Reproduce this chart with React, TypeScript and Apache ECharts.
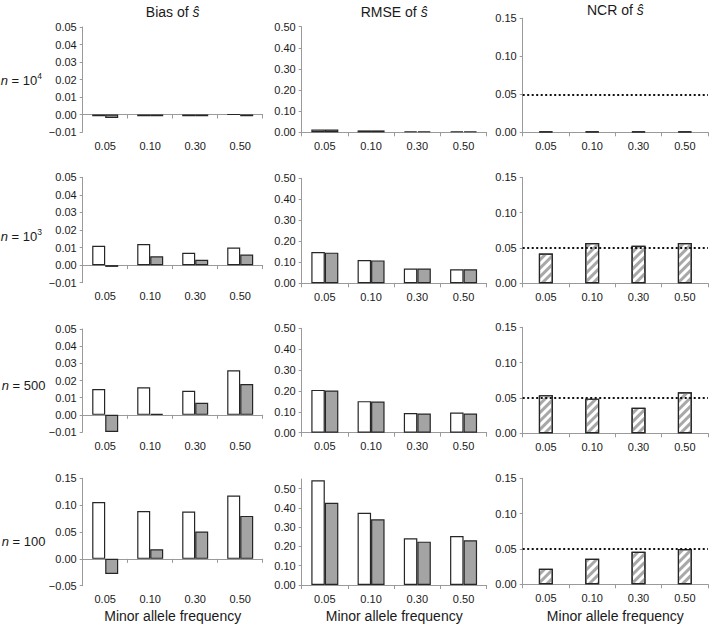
import React, { useEffect, useRef } from 'react';
import * as echarts from 'echarts';

// ---------- data ----------
const categories = ['0.05', '0.10', '0.30', '0.50'];
const sampleSizes = ['10^4', '10^3', '500', '100'];
const columnTitles = ['Bias of ', 'RMSE of ', 'NCR of '];
const xAxisTitle = 'Minor allele frequency';
const ncrNominal = 0.05;

// Bias (white = estimator A, grey = estimator B)
const biasA_n1e4 = [-0.001, -0.001, -0.001, 0.0];
const biasB_n1e4 = [-0.002, -0.001, -0.001, -0.001];
const biasA_n1e3 = [0.011, 0.012, 0.007, 0.010];
const biasB_n1e3 = [-0.001, 0.005, 0.003, 0.006];
const biasA_n500 = [0.015, 0.016, 0.014, 0.026];
const biasB_n500 = [-0.010, 0.0005, 0.007, 0.018];
const biasA_n100 = [0.106, 0.089, 0.088, 0.118];
const biasB_n100 = [-0.028, 0.018, 0.051, 0.080];

// RMSE
const rmseA_n1e4 = [0.013, 0.009, 0.005, 0.005];
const rmseB_n1e4 = [0.013, 0.009, 0.005, 0.005];
const rmseA_n1e3 = [0.149, 0.111, 0.070, 0.067];
const rmseB_n1e3 = [0.146, 0.109, 0.070, 0.067];
const rmseA_n500 = [0.205, 0.151, 0.094, 0.097];
const rmseB_n500 = [0.202, 0.149, 0.092, 0.092];
const rmseA_n100 = [0.543, 0.375, 0.242, 0.254];
const rmseB_n100 = [0.427, 0.341, 0.225, 0.232];

// NCR
const ncr_n1e4 = [0.001, 0.001, 0.001, 0.001];
const ncr_n1e3 = [0.042, 0.057, 0.053, 0.057];
const ncr_n500 = [0.054, 0.049, 0.036, 0.058];
const ncr_n100 = [0.022, 0.036, 0.046, 0.050];

// y-axis ranges [min, max, interval] per row
const biasAxes = [[-0.01, 0.05, 0.01], [-0.01, 0.05, 0.01], [-0.01, 0.05, 0.01], [-0.05, 0.15, 0.05]];
const rmseAxes = [[0, 0.5, 0.1], [0, 0.5, 0.1], [0, 0.5, 0.1], [0, 0.55, 0.1]];
const ncrAxes = [[0, 0.15, 0.05], [0, 0.15, 0.05], [0, 0.15, 0.05], [0, 0.15, 0.05]];

// ---------- layout ----------
const FONT = '"Liberation Sans", Arial, sans-serif';
const TEXT = '#1a1a1a';
const AXIS = '#9a9a9a';
const BORDER = '#262626';
const GREY = '#a4a4a4';

const colLayout = [
  { left: 82.7, width: 180, barW: 13 },
  { left: 301.7, width: 185, barW: 13.5 },
  { left: 522.7, width: 185.3, barW: 14 },
];
const rowBounds = [
  [[27, 132], [177.3, 282.7], [329, 432], [478.3, 585.7]],
  [[26.7, 132.3], [178.3, 283.3], [328.3, 432.7], [479, 585]],
  [[18.3, 132.3], [177.3, 283.3], [327.3, 433.3], [478.3, 584.3]],
];
const rowLabelY = [80, 236, 385, 541];

function fmt(v: number) {
  if (Math.abs(v) < 1e-9) return '0.00';
  return v < 0 ? '\u2212' + Math.abs(v).toFixed(2) : v.toFixed(2);
}

export default function App() {
  const ref = useRef<HTMLDivElement>(null);
  useEffect(() => {
    if (!ref.current) return;
    const chart = echarts.init(ref.current, undefined, { renderer: 'svg' });

    const biasPairs = [[biasA_n1e4, biasB_n1e4], [biasA_n1e3, biasB_n1e3], [biasA_n500, biasB_n500], [biasA_n100, biasB_n100]];
    const rmsePairs = [[rmseA_n1e4, rmseB_n1e4], [rmseA_n1e3, rmseB_n1e3], [rmseA_n500, rmseB_n500], [rmseA_n100, rmseB_n100]];
    const ncrRows = [ncr_n1e4, ncr_n1e3, ncr_n500, ncr_n100];
    const axesRanges = [biasAxes, rmseAxes, ncrAxes];

    const grid: any[] = [];
    const xAxis: any[] = [];
    const yAxis: any[] = [];
    const series: any[] = [];

    for (let r = 0; r < 4; r++) {
      for (let c = 0; c < 3; c++) {
        const gi = grid.length;
        const [top, bottom] = rowBounds[c][r];
        const L = colLayout[c];
        grid.push({ left: L.left, top, width: L.width, height: bottom - top, containLabel: false });
        // label axis at bottom
        xAxis.push({
          type: 'category', gridIndex: gi, data: categories, position: 'bottom',
          axisLine: { show: false, onZero: false }, axisTick: { show: false },
          axisLabel: { margin: 8, fontSize: 11, color: TEXT, fontFamily: FONT },
        });
        // line axis at zero
        xAxis.push({
          type: 'category', gridIndex: gi, data: categories, position: 'bottom',
          axisLine: { show: true, onZero: true, lineStyle: { color: AXIS, width: 1 } },
          axisTick: { show: true, length: 4, lineStyle: { color: AXIS } },
          axisLabel: { show: false },
        });
        const [mn, mx, iv] = axesRanges[c][r];
        yAxis.push({
          type: 'value', gridIndex: gi, min: mn, max: mx, interval: iv,
          axisLine: { show: true, lineStyle: { color: AXIS, width: 1 } },
          axisTick: { show: true, length: 3, lineStyle: { color: AXIS } },
          splitLine: { show: false },
          axisLabel: { showMaxLabel: !(c === 1 && r === 3), margin: 6, fontSize: 11, color: TEXT, fontFamily: FONT, formatter: fmt },
        });
        const xIdx = gi * 2;
        if (c < 2) {
          const pair = c === 0 ? biasPairs[r] : rmsePairs[r];
          series.push({
            type: 'bar', xAxisIndex: xIdx, yAxisIndex: gi, data: pair[0], barWidth: L.barW, barGap: '0%',
            itemStyle: { color: '#ffffff', borderColor: BORDER, borderWidth: 1.2 },
          });
          series.push({
            type: 'bar', xAxisIndex: xIdx, yAxisIndex: gi, data: pair[1], barWidth: L.barW, barGap: '0%',
            itemStyle: { color: GREY, borderColor: BORDER, borderWidth: 1.2 },
          });
        } else {
          series.push({
            type: 'bar', xAxisIndex: xIdx, yAxisIndex: gi, data: ncrRows[r], barWidth: L.barW,
            itemStyle: {
              color: '#ffffff', borderColor: BORDER, borderWidth: 1.2,
              decal: { symbol: 'rect', symbolSize: 1, color: '#a8a8a8', dashArrayX: [1, 0], dashArrayY: [3, 3], rotation: -Math.PI / 4 },
            },
            markLine: {
              silent: true, symbol: 'none', label: { show: false },
              lineStyle: { type: [2, 2.5], color: '#111', width: 2.2 },
              data: [{ yAxis: ncrNominal }],
            },
          });
        }
      }
    }

    const graphic: any[] = [];
    // column titles
    for (let c = 0; c < 3; c++) {
      const L = colLayout[c];
      const cx = L.left + L.width / 2;
      const ty = c === 2 ? 9.5 : 12;
      graphic.push({
        type: 'text', x: cx, y: ty,
        style: {
          text: `{r|${columnTitles[c]}}{i|ŝ}`, align: 'center', verticalAlign: 'middle',
          rich: {
            r: { fontSize: 14, fontFamily: FONT, fill: TEXT, color: TEXT },
            i: { fontSize: 14, fontFamily: FONT, fontStyle: 'italic', fill: TEXT, color: TEXT },
          },
        },
      });
      graphic.push({
        type: 'text', x: cx, y: 616,
        style: { text: xAxisTitle, align: 'center', verticalAlign: 'middle', fontSize: 14, fontFamily: FONT, fill: TEXT },
      });
    }
    // row labels
    for (let r = 0; r < 4; r++) {
      const s = sampleSizes[r];
      const parts = s.split('^');
      const text = parts.length > 1 ? `{i|n}{r| = ${parts[0]}}{s|${parts[1]}}` : `{i|n}{r| = ${parts[0]}}`;
      graphic.push({
        type: 'text', x: parts.length > 1 ? 42 : 45.5, y: rowLabelY[r],
        style: {
          text, align: 'right', verticalAlign: 'middle',
          rich: {
            i: { fontSize: 13, fontFamily: FONT, fontStyle: 'italic', fill: TEXT, lineHeight: 17 },
            r: { fontSize: 13, fontFamily: FONT, fill: TEXT, lineHeight: 17 },
            s: { fontSize: 8.5, fontFamily: FONT, fill: TEXT, verticalAlign: 'top', lineHeight: 10 },
          },
        },
      });
    }

    chart.setOption({
      animation: false,
      backgroundColor: '#ffffff',
      grid, xAxis, yAxis, series, graphic,
    });
    return () => chart.dispose();
  }, []);
  return <div ref={ref} style={{ position: 'fixed', left: 0, top: 0, width: 709, height: 625 }} />;
}
